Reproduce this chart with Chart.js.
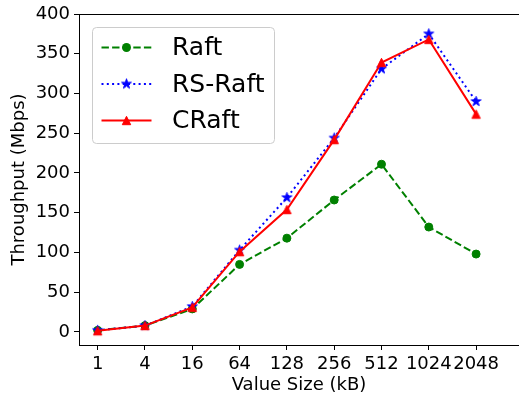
<!DOCTYPE html>
<html>
<head>
<meta charset="utf-8">
<script src="https://cdn.jsdelivr.net/npm/chart.js@4/dist/chart.umd.min.js"></script>
<style>
  html, body { margin: 0; padding: 0; background: #fff; }
  #wrap { width: 519px; height: 396px; }
</style>
</head>
<body>
<div id="wrap"><canvas id="c" width="519" height="396"></canvas></div>
<script>
// Value sizes (kB) on the x axis
const categories = ['1', '4', '16', '64', '128', '256', '512', '1024', '2048'];
// Throughput in Mbps for each protocol
const raft   = [2, 8, 29, 85, 118, 166, 211, 132, 98];
const rsRaft = [2, 8, 32, 103, 169, 244, 331, 375, 290];
const cRaft  = [1.5, 8, 31, 101, 154, 242, 339, 368, 274];
// Y axis tick values
const yTicks = [0, 50, 100, 150, 200, 250, 300, 350, 400];

const seriesNames = ['Raft', 'RS-Raft', 'CRaft'];

const FONT = '"DejaVu Sans", "Liberation Sans", sans-serif';
const GREEN = '#008000', BLUE = '#0000ff', RED = '#ff0000';

// Filled five-point star marker
function makeStar(color, outer) {
  const size = Math.ceil(outer * 2 + 4);
  const cv = document.createElement('canvas');
  cv.width = size; cv.height = size;
  const g = cv.getContext('2d');
  const cx = size / 2, cy = size / 2, inner = outer * 0.382;
  g.beginPath();
  for (let i = 0; i < 10; i++) {
    const r = i % 2 === 0 ? outer : inner;
    const a = -Math.PI / 2 + i * Math.PI / 5;
    const px = cx + r * Math.cos(a), py = cy + r * Math.sin(a);
    if (i === 0) g.moveTo(px, py); else g.lineTo(px, py);
  }
  g.closePath();
  g.fillStyle = color; g.fill();
  g.lineWidth = 1; g.strokeStyle = color; g.stroke();
  return cv;
}

// Upward triangle marker, as wide as it is tall
function makeTriangle(color, s) {
  const size = Math.ceil(s + 4);
  const cv = document.createElement('canvas');
  cv.width = size; cv.height = size;
  const g = cv.getContext('2d');
  const cx = size / 2, cy = size / 2, h = s / 2;
  g.beginPath();
  g.moveTo(cx, cy - h);
  g.lineTo(cx - h, cy + h);
  g.lineTo(cx + h, cy + h);
  g.closePath();
  g.fillStyle = color; g.fill();
  g.lineWidth = 1; g.strokeStyle = color; g.stroke();
  return cv;
}

const starImg = makeStar(BLUE, 5.2);
const triImg = makeTriangle(RED, 8.4);

function pts(arr) { return arr.map((v, i) => ({ x: i, y: v })); }

const datasets = [
  {
    label: seriesNames[0], data: pts(raft),
    borderColor: GREEN, backgroundColor: GREEN, borderWidth: 2,
    borderDash: [7.4, 3.2], pointStyle: 'circle', pointRadius: 4,
    pointBorderWidth: 1, pointBackgroundColor: GREEN, pointBorderColor: GREEN,
    order: 3
  },
  {
    label: seriesNames[1], data: pts(rsRaft),
    borderColor: BLUE, backgroundColor: BLUE, borderWidth: 2,
    borderDash: [2, 3.3], pointStyle: starImg, pointRadius: 5,
    order: 2
  },
  {
    label: seriesNames[2], data: pts(cRaft),
    borderColor: RED, backgroundColor: RED, borderWidth: 2,
    pointStyle: triImg, pointRadius: 5,
    order: 1
  }
];

// Top spine and the boxed legend
const framePlugin = {
  id: 'frame',
  afterDatasetsDraw(chart) {
    const { ctx, chartArea } = chart;
    ctx.save();
    ctx.strokeStyle = '#000';
    ctx.lineWidth = 1;
    ctx.beginPath();
    ctx.moveTo(chartArea.left, chartArea.top + 0.5);
    ctx.lineTo(chartArea.right, chartArea.top + 0.5);
    ctx.stroke();

    // legend box
    const bx = 92.5, by = 27.5, bw = 182, bh = 116, r = 4;
    ctx.beginPath();
    ctx.moveTo(bx + r, by);
    ctx.lineTo(bx + bw - r, by);
    ctx.quadraticCurveTo(bx + bw, by, bx + bw, by + r);
    ctx.lineTo(bx + bw, by + bh - r);
    ctx.quadraticCurveTo(bx + bw, by + bh, bx + bw - r, by + bh);
    ctx.lineTo(bx + r, by + bh);
    ctx.quadraticCurveTo(bx, by + bh, bx, by + bh - r);
    ctx.lineTo(bx, by + r);
    ctx.quadraticCurveTo(bx, by, bx + r, by);
    ctx.closePath();
    ctx.fillStyle = 'rgba(255,255,255,0.8)';
    ctx.fill();
    ctx.strokeStyle = '#cccccc';
    ctx.stroke();

    const rows = [47.5, 84, 120.5];
    const x0 = 101.5, x1 = 151.5, xm = 126.5;
    datasets.forEach((ds, i) => {
      const y = rows[i];
      ctx.save();
      ctx.strokeStyle = ds.borderColor;
      ctx.lineWidth = ds.borderWidth;
      ctx.setLineDash(ds.borderDash || []);
      ctx.beginPath();
      ctx.moveTo(x0, y);
      ctx.lineTo(x1, y);
      ctx.stroke();
      ctx.restore();
      if (ds.pointStyle === 'circle') {
        ctx.beginPath();
        ctx.arc(xm, y, 4.5, 0, Math.PI * 2);
        ctx.fillStyle = ds.borderColor;
        ctx.fill();
      } else {
        const img = ds.pointStyle;
        ctx.drawImage(img, xm - img.width / 2, y - img.height / 2);
      }
      ctx.fillStyle = '#000';
      ctx.font = '25px ' + FONT;
      ctx.textBaseline = 'middle';
      ctx.textAlign = 'left';
      ctx.fillText(ds.label, 172, y + 1);
    });
    ctx.restore();
  }
};

new Chart(document.getElementById('c'), {
  type: 'line',
  data: { datasets },
  options: {
    responsive: false,
    animation: false,
    devicePixelRatio: 1,
    layout: { autoPadding: false, padding: { top: 14, right: 0, left: 0, bottom: 0 } },
    plugins: { legend: { display: false }, tooltip: { enabled: false } },
    elements: { line: { tension: 0, fill: false } },
    datasets: { line: { clip: false } },
    scales: {
      x: {
        type: 'linear',
        min: -0.395,
        max: 8.907,
        afterBuildTicks(scale) { scale.ticks = categories.map((_, i) => ({ value: i })); },
        afterFit(scale) { scale.height = 51; scale.paddingLeft = 0; scale.paddingRight = 0; },
        ticks: {
          autoSkip: false, maxRotation: 0, padding: 4,
          color: '#000', font: { family: FONT, size: 18 },
          callback: (v) => categories[v]
        },
        grid: { drawOnChartArea: false, drawTicks: true, tickLength: 5, tickColor: '#000', tickWidth: 1 },
        border: { display: true, color: '#000', width: 1 },
        title: {
          display: true, text: 'Value Size (kB)', color: '#000',
          font: { family: FONT, size: 18 }, padding: { top: 0, bottom: 0 }
        }
      },
      y: {
        type: 'linear',
        min: -16.4,
        max: 400,
        afterBuildTicks(scale) { scale.ticks = yTicks.map(v => ({ value: v })); },
        afterFit(scale) { scale.width = 79; scale.paddingTop = 0; scale.paddingBottom = 0; },
        ticks: {
          padding: 4, color: '#000', font: { family: FONT, size: 18 }
        },
        grid: { drawOnChartArea: false, drawTicks: true, tickLength: 5, tickColor: '#000', tickWidth: 1 },
        border: { display: true, color: '#000', width: 1 },
        title: {
          display: true, text: 'Throughput (Mbps)', color: '#000',
          font: { family: FONT, size: 18 }, padding: { top: 9, bottom: 0 }
        }
      }
    }
  },
  plugins: [framePlugin]
});
</script>
</body>
</html>
